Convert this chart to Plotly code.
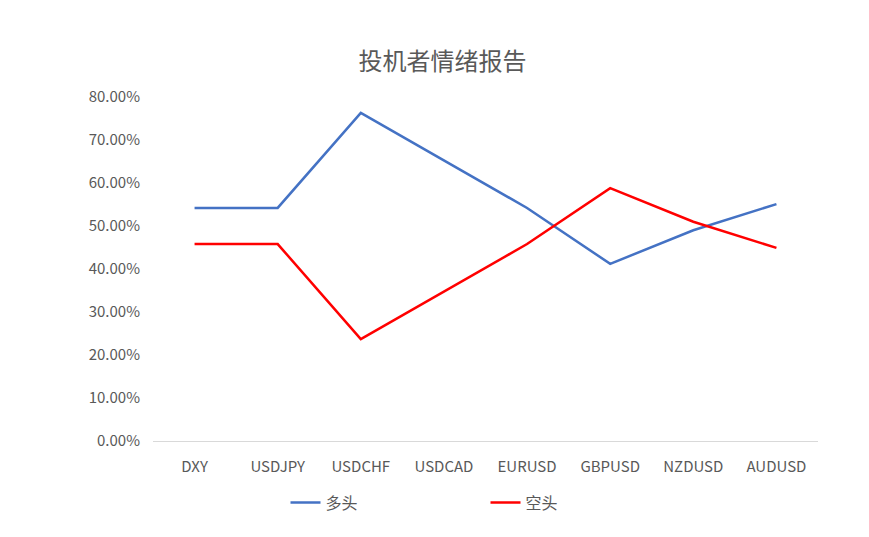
import plotly.graph_objects as go

categories = ["DXY", "USDJPY", "USDCHF", "USDCAD", "EURUSD", "GBPUSD", "NZDUSD", "AUDUSD"]
long_vals = [0.542, 0.542, 0.763, 0.652, 0.542, 0.412, 0.490, 0.551]
short_vals = [0.458, 0.458, 0.237, 0.348, 0.458, 0.588, 0.510, 0.449]
yticks = [0, 0.1, 0.2, 0.3, 0.4, 0.5, 0.6, 0.7, 0.8]

fig = go.Figure()
fig.add_trace(go.Scatter(x=categories, y=long_vals, mode="lines", name="多头",
                         line=dict(color="#4472C4", width=2.5)))
fig.add_trace(go.Scatter(x=categories, y=short_vals, mode="lines", name="空头",
                         line=dict(color="#FF0000", width=2.5)))
fig.update_layout(
    width=869, height=537, paper_bgcolor="white", plot_bgcolor="white",
    font=dict(family="Noto Sans CJK SC, Noto Sans", color="#595959", size=15),
    title=dict(text="投机者情绪报告", x=0.5, xanchor="center", y=0.9, yanchor="middle",
               font=dict(size=24, color="#595959")),
    margin=dict(l=145, r=59, t=89, b=104),
    legend=dict(orientation="h", x=0.5, xanchor="center", y=-0.13, yanchor="top",
                font=dict(size=16), entrywidth=155, entrywidthmode="pixels"),
    xaxis=dict(showgrid=False, showline=True, linecolor="#D9D9D9", ticks="",
               range=[-0.5, 7.5], ticklabelstandoff=12),
    yaxis=dict(range=[0, 0.8], tickvals=yticks, tickformat=".2%", showgrid=False,
               zeroline=False, ticklabelstandoff=12),
)
fig.write_html("out.html")
